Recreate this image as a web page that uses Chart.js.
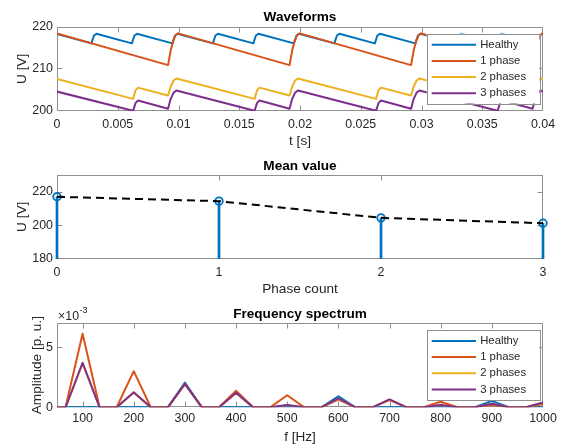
<!DOCTYPE html>
<html>
<head>
<meta charset="utf-8">
<script src="https://cdn.jsdelivr.net/npm/chart.js@4.4.1/dist/chart.umd.min.js"></script>
<style>
  html, body { margin: 0; padding: 0; background: #ffffff; }
  #wrap { position: relative; width: 565px; height: 444px; overflow: hidden; background: #ffffff; }
  #wrap canvas { position: absolute; left: 0; }
</style>
</head>
<body>
<div id="wrap">
  <canvas id="cWave" width="565" height="150" style="top:0px;width:565px;height:150px"></canvas>
  <canvas id="cMean" width="565" height="150" style="top:150px;width:565px;height:150px"></canvas>
  <canvas id="cSpec" width="565" height="150" style="top:300px;width:565px;height:150px"></canvas>
</div>
<script>
// ===================== DATA =====================
const seriesNames = ['Healthy', '1 phase', '2 phases', '3 phases'];

// --- Waveforms: breakpoints (t in s, U in V) ---
const tHealthy = [0,
  0.00283, 0.00304, 0.00325, 0.00616, 0.00637, 0.00658, 0.0095, 0.00971, 0.00992,
  0.01283, 0.01304, 0.01325, 0.01616, 0.01637, 0.01658, 0.0195, 0.01971, 0.01992,
  0.02283, 0.02304, 0.02325, 0.02616, 0.02637, 0.02658, 0.0295, 0.02971, 0.02992,
  0.03283, 0.03304, 0.03325, 0.03616, 0.03637, 0.03658, 0.0395, 0.03971, 0.03992,
  0.04];
const uHealthy = [218.25,
  216.0, 217.9, 218.3, 216.0, 217.9, 218.3, 216.0, 217.9, 218.3,
  216.0, 217.9, 218.3, 216.0, 217.9, 218.3, 216.0, 217.9, 218.3,
  216.0, 217.9, 218.3, 216.0, 217.9, 218.3, 216.0, 217.9, 218.3,
  216.0, 217.9, 218.3, 216.0, 217.9, 218.3, 216.0, 217.9, 218.3,
  218.25];

const tOnePhase = [0,
  0.00914, 0.00937, 0.00957, 0.00977, 0.00997,
  0.01914, 0.01937, 0.01957, 0.01977, 0.01997,
  0.02914, 0.02937, 0.02957, 0.02977, 0.02997,
  0.03914, 0.03937, 0.03957, 0.03977, 0.03997,
  0.04];
const uOnePhase = [218.4,
  210.8, 214.5, 216.7, 218.0, 218.4,
  210.8, 214.5, 216.7, 218.0, 218.4,
  210.8, 214.5, 216.7, 218.0, 218.4,
  210.8, 214.5, 216.7, 218.0, 218.4,
  218.4];

const tMultiPhase = [0,
  0.00626, 0.00647, 0.00667, 0.00914, 0.00935, 0.0096, 0.00983,
  0.01626, 0.01647, 0.01667, 0.01914, 0.01935, 0.0196, 0.01983,
  0.02626, 0.02647, 0.02667, 0.02914, 0.02935, 0.0296, 0.02983,
  0.03626, 0.03647, 0.03667, 0.03914, 0.03935, 0.0396, 0.03983,
  0.04];
const uTwoPhases = [207.5,
  202.7, 204.8, 205.4, 203.5, 205.6, 207.1, 207.6,
  202.7, 204.8, 205.4, 203.5, 205.6, 207.1, 207.6,
  202.7, 204.8, 205.4, 203.5, 205.6, 207.1, 207.6,
  202.7, 204.8, 205.4, 203.5, 205.6, 207.1, 207.6,
  207.5];
const uThreePhases = [204.45,
  199.85, 201.75, 202.3, 200.35, 202.65, 204.2, 204.7,
  199.85, 201.75, 202.3, 200.35, 202.65, 204.2, 204.7,
  199.85, 201.75, 202.3, 200.35, 202.65, 204.2, 204.7,
  199.85, 201.75, 202.3, 200.35, 202.65, 204.2, 204.7,
  204.45];
const waveXTicks = [0, 0.005, 0.01, 0.015, 0.02, 0.025, 0.03, 0.035, 0.04];
const waveYTicks = [200, 210, 220];

// --- Mean value ---
const phaseCount = [0, 1, 2, 3];
const meanU = [216.9, 214.3, 204.4, 201.2];
const meanXTicks = [0, 1, 2, 3];
const meanYTicks = [180, 200, 220];

// --- Frequency spectrum (amplitude in units of 1e-3 p.u.) ---
const freqHz = [33.3, 66.7, 100, 133.3, 166.7, 200, 233.3, 266.7, 300, 333.3,
  366.7, 400, 433.3, 466.7, 500, 533.3, 566.7, 600, 633.3, 666.7,
  700, 733.3, 766.7, 800, 833.3, 866.7, 900, 933.3, 966.7, 1000];
const specHealthy = [0, 0, 0, 0, 0, 0, 0, 0, 2.05, 0,
  0, 0, 0, 0, 0, 0, 0, 0.92, 0, 0,
  0, 0, 0, 0, 0, 0, 0.53, 0, 0, 0];
const specOnePhase = [0, 0, 6.1, 0, 0, 3.0, 0, 0, 1.95, 0,
  0, 1.37, 0, 0, 1.0, 0, 0, 0.65, 0, 0,
  0.6, 0, 0, 0.46, 0, 0, 0.2, 0, 0, 0.25];
const specTwoPhases = [0, 0, 3.62, 0, 0, 1.2, 0, 0, 1.9, 0,
  0, 1.17, 0, 0, 0.18, 0, 0, 0.72, 0, 0,
  0.64, 0, 0, 0.18, 0, 0, 0.3, 0, 0, 0.38];
const specThreePhases = [0, 0, 3.7, 0, 0, 1.24, 0, 0, 1.95, 0,
  0, 1.2, 0, 0, 0.2, 0, 0, 0.74, 0, 0,
  0.66, 0, 0, 0.2, 0, 0, 0.3, 0, 0, 0.41];
const specXTicks = [100, 200, 300, 400, 500, 600, 700, 800, 900, 1000];
const specYTicks = [0, 5];

// ===================== STYLE =====================
const FONT = "'Liberation Sans', Arial, Helvetica, sans-serif";
const COLORS = ['#0072BD', '#D95319', '#EDB120', '#7E2F8E'];
const TEXT_COLOR = '#262626';
const TITLE_COLOR = '#000000';
const AXIS_COLOR = '#8f8f8f';
const TICK_SIZE = 12.4, LABEL_SIZE = 13.6, TITLE_SIZE = 13.6, LEG_SIZE = 11.3;
const LH = LABEL_SIZE * 1.2;
const CH = 150;
const TICK_LEN = 5;

Chart.defaults.font.family = FONT;

const pts = (xs, ys) => xs.map((x, i) => ({ x: x, y: ys[i] }));

const mlAxes = {
  id: 'mlAxes',
  beforeDatasetsDraw(chart) {
    const { ctx, chartArea: a, scales: { x, y } } = chart;
    const L = Math.round(a.left) + 0.5, R = Math.round(a.right) - 0.5;
    const T = Math.round(a.top) + 0.5, B = Math.round(a.bottom) - 0.5;
    const clampX = v => Math.min(Math.max(v, L), R);
    const clampY = v => Math.min(Math.max(v, T), B);
    ctx.save();
    ctx.strokeStyle = AXIS_COLOR;
    ctx.lineWidth = 1;
    ctx.beginPath();
    ctx.rect(L, T, R - L, B - T);
    x.ticks.forEach(t => {
      const px = clampX(Math.round(x.getPixelForValue(t.value)) + 0.5);
      ctx.moveTo(px, B); ctx.lineTo(px, B - TICK_LEN);
      ctx.moveTo(px, T); ctx.lineTo(px, T + TICK_LEN);
    });
    y.ticks.forEach(t => {
      const py = clampY(Math.round(y.getPixelForValue(t.value)) + 0.5);
      ctx.moveTo(L, py); ctx.lineTo(L + TICK_LEN, py);
      ctx.moveTo(R, py); ctx.lineTo(R - TICK_LEN, py);
    });
    ctx.stroke();
    ctx.restore();
  }
};

function makeLegend(box) {
  return {
    id: 'mlLegend',
    afterDraw(chart) {
      const ctx = chart.ctx;
      ctx.save();
      ctx.fillStyle = '#ffffff';
      ctx.fillRect(box.left, box.top, box.width, box.height);
      ctx.strokeStyle = AXIS_COLOR;
      ctx.lineWidth = 1;
      ctx.strokeRect(Math.round(box.left) + 0.5, Math.round(box.top) + 0.5, Math.round(box.width), Math.round(box.height));
      ctx.font = LEG_SIZE + 'px ' + FONT;
      ctx.textBaseline = 'middle';
      ctx.textAlign = 'left';
      chart.data.datasets.forEach((ds, i) => {
        const yy = box.top + box.first + i * box.step;
        ctx.strokeStyle = ds.borderColor;
        ctx.lineWidth = 2;
        ctx.beginPath();
        ctx.moveTo(box.left + 5, yy);
        ctx.lineTo(box.left + 49.3, yy);
        ctx.stroke();
        ctx.fillStyle = TEXT_COLOR;
        ctx.fillText(ds.label, box.left + 53.5, yy);
      });
      ctx.restore();
    }
  };
}

const expLabel = {
  id: 'expLabel',
  afterDraw(chart) {
    const ctx = chart.ctx;
    ctx.save();
    ctx.fillStyle = TEXT_COLOR;
    ctx.textBaseline = 'middle';
    ctx.textAlign = 'left';
    ctx.font = TICK_SIZE + 'px ' + FONT;
    const base = '\u00d710';
    ctx.fillText(base, 58, 16.3);
    const w = ctx.measureText(base).width;
    ctx.font = '9px ' + FONT;
    ctx.fillText('-3', 58 + w + 0.5, 11);
    ctx.restore();
  }
};

function buildOptions(g) {
  const titlePadTop = g.titleCenter - LH / 2;
  return {
    responsive: false,
    animation: false,
    events: [],
    layout: { padding: { left: 0, right: 565 - g.right, top: 0, bottom: 0 } },
    plugins: {
      legend: { display: false },
      tooltip: { enabled: false },
      title: {
        display: true, text: g.title, fullSize: false, color: TITLE_COLOR,
        font: { family: FONT, size: TITLE_SIZE, weight: 'bold', lineHeight: 1.2 },
        padding: { top: titlePadTop, bottom: g.top - LH - titlePadTop }
      }
    },
    scales: {
      x: {
        type: 'linear', min: g.xMin, max: g.xMax, offset: false,
        grid: { display: false, drawTicks: false, tickLength: 0 }, border: { display: false },
        afterBuildTicks: s => { s.ticks = g.xTicks.map(v => ({ value: v })); },
        afterFit: s => { s.height = CH - g.bottom; },
        ticks: {
          color: TEXT_COLOR, font: { family: FONT, size: TICK_SIZE }, padding: g.xTickPad,
          maxRotation: 0, minRotation: 0, autoSkip: false,
          callback: g.xFmt || (v => String(v))
        },
        title: {
          display: true, text: g.xTitle, color: TEXT_COLOR,
          font: { family: FONT, size: LABEL_SIZE, lineHeight: 1.2 },
          padding: { top: 0, bottom: CH - g.xTitleCenter - LH / 2 }
        }
      },
      y: {
        type: 'linear', min: g.yMin, max: g.yMax,
        grid: { display: false, drawTicks: false, tickLength: 0 }, border: { display: false },
        afterBuildTicks: s => { s.ticks = g.yTicks.map(v => ({ value: v })); },
        afterFit: s => { s.width = g.left; },
        ticks: {
          color: TEXT_COLOR, font: { family: FONT, size: TICK_SIZE }, padding: 4,
          autoSkip: false, callback: v => String(v)
        },
        title: {
          display: true, text: g.yTitle, color: TEXT_COLOR,
          font: { family: FONT, size: LABEL_SIZE, lineHeight: 1.2 },
          padding: { top: g.yTitleX - LH / 2, bottom: 0 }
        }
      }
    }
  };
}

function lineDs(label, color, data, order) {
  return {
    type: 'line', label: label, data: data, borderColor: color, backgroundColor: color,
    borderWidth: 2, pointRadius: 0, tension: 0, fill: false, order: order,
    borderJoinStyle: 'round', borderCapStyle: 'round'
  };
}

// ===================== CHART 1: Waveforms =====================
new Chart(document.getElementById('cWave'), {
  type: 'line',
  data: {
    datasets: [
      lineDs(seriesNames[0], COLORS[0], pts(tHealthy, uHealthy), 4),
      lineDs(seriesNames[1], COLORS[1], pts(tOnePhase, uOnePhase), 3),
      lineDs(seriesNames[2], COLORS[2], pts(tMultiPhase, uTwoPhases), 2),
      lineDs(seriesNames[3], COLORS[3], pts(tMultiPhase, uThreePhases), 1)
    ]
  },
  options: buildOptions({
    title: 'Waveforms', titleCenter: 17.2, top: 26.7, bottom: 111, left: 57, right: 543,
    xMin: 0, xMax: 0.04, xTicks: waveXTicks, xTickPad: 6, xTitle: 't [s]', xTitleCenter: 141,
    xFmt: v => String(+(+v).toFixed(4)),
    yMin: 199.8, yMax: 220, yTicks: waveYTicks, yTitle: 'U [V]', yTitleX: 22.5
  }),
  plugins: [mlAxes, makeLegend({ left: 426.7, top: 33.5, width: 112.6, height: 70, first: 11.2, step: 16.2 })]
});

// ===================== CHART 2: Mean value =====================
new Chart(document.getElementById('cMean'), {
  type: 'line',
  data: {
    datasets: [
      {
        type: 'line', label: 'trend', data: pts(phaseCount, meanU),
        borderColor: '#000000', borderWidth: 2, borderDash: [8, 5], pointRadius: 0,
        tension: 0, fill: false, order: 0, clip: false
      },
      {
        type: 'line', label: 'mean', data: pts(phaseCount, meanU), showLine: false,
        pointStyle: 'circle', pointRadius: 3.8, pointBorderWidth: 1.8,
        pointBorderColor: COLORS[0], pointBackgroundColor: 'rgba(0,0,0,0)',
        borderColor: COLORS[0], order: 1, clip: false
      },
      {
        type: 'bar', label: 'stem', data: pts(phaseCount, meanU),
        backgroundColor: COLORS[0], borderWidth: 0, barThickness: 2, order: 2,
        clip: { left: 3, right: 3, top: 0, bottom: 0 }
      }
    ]
  },
  options: buildOptions({
    title: 'Mean value', titleCenter: 16.2, top: 24.7, bottom: 109, left: 57, right: 543,
    xMin: 0, xMax: 3, xTicks: meanXTicks, xTickPad: 6, xTitle: 'Phase count', xTitleCenter: 139.5,
    yMin: 180, yMax: 230, yTicks: meanYTicks, yTitle: 'U [V]', yTitleX: 22.5
  }),
  plugins: [mlAxes]
});

// ===================== CHART 3: Frequency spectrum =====================
new Chart(document.getElementById('cSpec'), {
  type: 'line',
  data: {
    datasets: [
      lineDs(seriesNames[0], COLORS[0], pts(freqHz, specHealthy), 4),
      lineDs(seriesNames[1], COLORS[1], pts(freqHz, specOnePhase), 3),
      lineDs(seriesNames[2], COLORS[2], pts(freqHz, specTwoPhases), 2),
      lineDs(seriesNames[3], COLORS[3], pts(freqHz, specThreePhases), 1)
    ]
  },
  options: buildOptions({
    title: 'Frequency spectrum', titleCenter: 13.8, top: 23, bottom: 107.3, left: 57, right: 543,
    xMin: 50, xMax: 1000, xTicks: specXTicks, xTickPad: 3.8, xTitle: 'f [Hz]', xTitleCenter: 137.3,
    yMin: 0, yMax: 7, yTicks: specYTicks, yTitle: 'Amplitude [p. u.]', yTitleX: 37.5
  }),
  plugins: [mlAxes, makeLegend({ left: 426.7, top: 30, width: 112.6, height: 69.5, first: 10.9, step: 16.2 }), expLabel]
});
</script>
</body>
</html>
